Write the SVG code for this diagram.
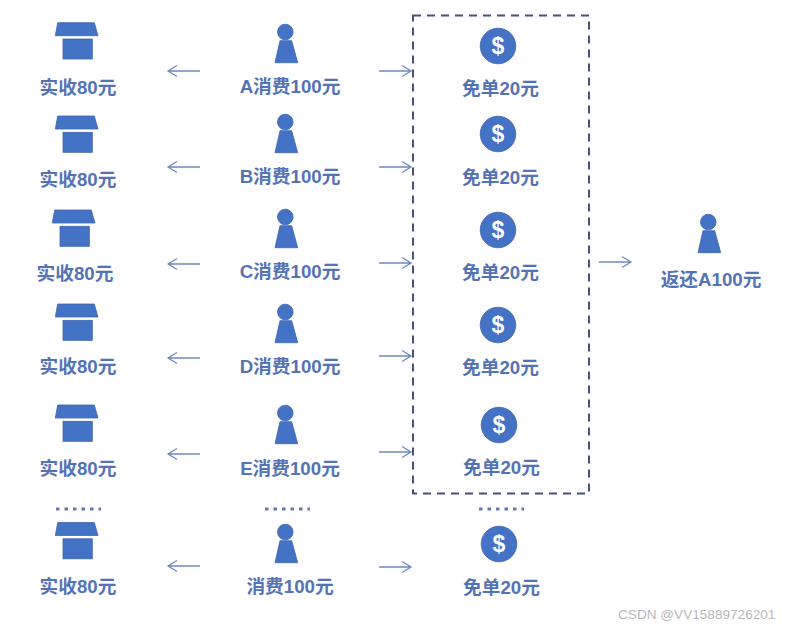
<svg xmlns="http://www.w3.org/2000/svg" width="792" height="628" viewBox="0 0 792 628">
<style>
.lb{font-family:"Liberation Sans","Noto Sans CJK SC",sans-serif;font-weight:700;font-size:18.700px;fill:#5473b6;text-anchor:middle}
.ic{fill:#4472c4;stroke:#3d66b0;stroke-width:.8}
.ar{fill:none;stroke:#6f8ac0;stroke-width:1.3}
.dots{fill:none;stroke:#6a78ad;stroke-width:3;stroke-dasharray:3.500 5}
.usd{font-family:"Liberation Sans",sans-serif;font-weight:700;font-size:23px;fill:#fff;text-anchor:middle}
.wm{font-family:"Liberation Sans",sans-serif;font-size:13.600px;fill:#b8b8b8}
</style>
<defs>
<g id="store"><path class="ic" d="M-20.300 0H16.300L20 13H-22.700Z"/><rect class="ic" x="-15" y="16.300" width="29.300" height="20"/></g>
<g id="person"><circle class="ic" cx="0" cy="0" r="7.800"/><path class="ic" d="M-5.300 8.700H6.400L12.400 30.700H-10.300Z"/></g>
<g id="coin"><circle class="ic" cx="0" cy="0" r="17.800"/><text class="usd" x="0" y="8">$</text></g>
<path id="al" class="ar" d="M32 0H0M9 -5.500L0 0L9 5.500"/>
<path id="ar" class="ar" d="M0 0H32M23 -5.500L32 0L23 5.500"/>
</defs>
<g id="store-1"><use href="#store" x="78" y="22.700"/><text class="lb" x="78" y="93.500">实收80元</text></g>
<g id="store-2"><use href="#store" x="78" y="116"/><text class="lb" x="78" y="186">实收80元</text></g>
<g id="store-3"><use href="#store" x="75" y="210"/><text class="lb" x="75" y="280">实收80元</text></g>
<g id="store-4"><use href="#store" x="78" y="304"/><text class="lb" x="78" y="373">实收80元</text></g>
<g id="store-5"><use href="#store" x="78" y="405"/><text class="lb" x="78" y="475">实收80元</text></g>
<g id="store-6"><use href="#store" x="78" y="522.500"/><text class="lb" x="78" y="593">实收80元</text></g>
<g id="person-a"><use href="#person" x="285.300" y="32"/><text class="lb" x="290" y="93">A消费100元</text></g>
<g id="person-b"><use href="#person" x="285.300" y="122"/><text class="lb" x="290" y="183">B消费100元</text></g>
<g id="person-c"><use href="#person" x="285.300" y="217"/><text class="lb" x="290" y="278">C消费100元</text></g>
<g id="person-d"><use href="#person" x="285.300" y="312"/><text class="lb" x="290" y="373">D消费100元</text></g>
<g id="person-e"><use href="#person" x="285.300" y="413"/><text class="lb" x="290" y="475">E消费100元</text></g>
<g id="person-f"><use href="#person" x="285.300" y="532"/><text class="lb" x="290" y="593">消费100元</text></g>
<g id="person-return"><use href="#person" x="708.300" y="222"/><text class="lb" x="711" y="286">返还A100元</text></g>
<g id="coin-1"><use href="#coin" x="498" y="46"/><text class="lb" x="500.500" y="95">免单20元</text></g>
<g id="coin-2"><use href="#coin" x="498" y="134"/><text class="lb" x="500.500" y="184">免单20元</text></g>
<g id="coin-3"><use href="#coin" x="498" y="230"/><text class="lb" x="500.500" y="279">免单20元</text></g>
<g id="coin-4"><use href="#coin" x="498" y="325"/><text class="lb" x="500.500" y="374">免单20元</text></g>
<g id="coin-5"><use href="#coin" x="499" y="425"/><text class="lb" x="501.500" y="474">免单20元</text></g>
<g id="coin-6"><use href="#coin" x="499" y="544"/><text class="lb" x="501.500" y="594">免单20元</text></g>
<g id="connectors">
<use href="#al" x="168" y="71"/><use href="#al" x="168" y="167"/><use href="#al" x="168" y="264"/><use href="#al" x="168" y="358"/><use href="#al" x="168" y="454"/><use href="#al" x="168" y="566"/>
<use href="#ar" x="379" y="71"/><use href="#ar" x="379" y="167"/><use href="#ar" x="379" y="263"/><use href="#ar" x="379" y="356"/><use href="#ar" x="379" y="452"/><use href="#ar" x="379" y="567"/>
<use href="#ar" x="599" y="262"/>
</g>
<rect id="group-box" x="413" y="15.500" width="176" height="478" fill="none" stroke="#46507f" stroke-width="2" stroke-dasharray="8 6"/>
<g id="ellipses">
<path class="dots" d="M56 509H101"/><path class="dots" d="M265 509H310"/><path class="dots" d="M479 509H524"/>
</g>
<text class="wm" x="618" y="619">CSDN @VV15889726201</text>
</svg>
